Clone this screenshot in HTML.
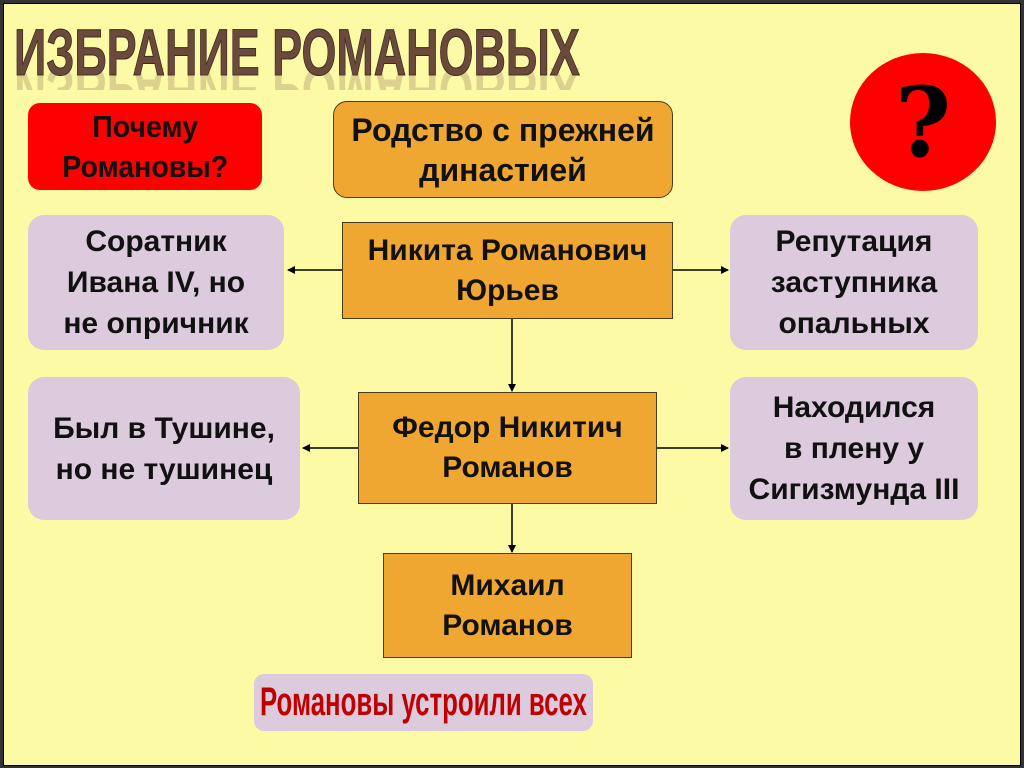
<!DOCTYPE html>
<html><head><meta charset="utf-8"><style>
body{margin:0;width:1024px;height:768px;overflow:hidden;background:#333;}
#f{position:absolute;left:3px;top:3px;width:1016px;height:761px;background:#fdfaa6;border:1px solid #000;}
.b{position:absolute;display:flex;align-items:center;justify-content:center;text-align:center;font-weight:bold;box-sizing:border-box;color:#111;font-family:"Liberation Sans",sans-serif;white-space:nowrap;}
.lav{background:#dccbdc;border-radius:16px;font-size:30px;line-height:41px;}
.or{background:#f0a732;border:1.5px solid #4a3a20;font-size:30px;line-height:40px;}
.n{display:inline-block;}
</style></head><body>
<div id="f"></div>
<div style="position:absolute;left:14px;top:14px;font-family:'Liberation Sans',sans-serif;font-weight:bold;font-size:66px;color:#6a4a3c;white-space:nowrap;transform:scaleX(0.68);transform-origin:0 0;-webkit-text-stroke:1px #3a2a20;">ИЗБРАНИЕ РОМАНОВЫХ</div>
<div style="position:absolute;left:14px;top:66px;height:24px;overflow:hidden;opacity:0.22;">
<div style="font-family:'Liberation Sans',sans-serif;font-weight:bold;font-size:66px;line-height:66px;color:#6a4a3c;white-space:nowrap;transform:scaleX(0.68) scaleY(-1);transform-origin:0 33px;margin-top:-8px;">ИЗБРАНИЕ РОМАНОВЫХ</div></div>
<div class="b" style="left:28px;top:103px;width:234px;height:87px;background:#ff0000;border-radius:12px;font-size:31px;line-height:40px;"><span class="n" style="transform:scaleX(0.92)">Почему<br>Романовы?</span></div>
<div class="b or" style="left:333px;top:101px;width:340px;height:97px;border-radius:14px;font-size:32px;">Родство с прежней<br>династией</div>
<div style="position:absolute;left:850px;top:53px;width:146px;height:138px;border-radius:50%;background:#ff0000;"></div>
<div style="position:absolute;left:850px;top:68px;width:146px;text-align:center;font-family:'DejaVu Serif','Liberation Serif',serif;font-weight:bold;font-size:96px;line-height:110px;color:#000;">?</div>
<div class="b lav" style="left:28px;top:215px;width:256px;height:135px;">Соратник<br>Ивана IV, но<br>не опричник</div>
<div class="b lav" style="left:730px;top:215px;width:248px;height:135px;">Репутация<br>заступника<br>опальных</div>
<div class="b lav" style="left:28px;top:377px;width:272px;height:143px;">Был в Тушине,<br>но не тушинец</div>
<div class="b lav" style="left:730px;top:377px;width:248px;height:143px;">Находился<br>в плену у<br>Сигизмунда III</div>
<div class="b or" style="left:342px;top:222px;width:331px;height:97px;">Никита Романович<br>Юрьев</div>
<div class="b or" style="left:358px;top:392px;width:299px;height:112px;">Федор Никитич<br>Романов</div>
<div class="b or" style="left:383px;top:553px;width:249px;height:105px;">Михаил<br>Романов</div>
<div class="b" style="left:254px;top:674px;width:339px;height:57px;background:#dccbdc;border-radius:10px;color:#c00000;font-size:40px;"><span class="n" style="transform:scaleX(0.645)">Романовы устроили всех</span></div>
<svg width="1024" height="768" style="position:absolute;left:0;top:0">
<defs><marker id="a" markerWidth="8" markerHeight="8" refX="7" refY="4" orient="auto" markerUnits="userSpaceOnUse"><path d="M0,0 L8,4 L0,8z" fill="#000"/></marker></defs>
<g stroke="#000" stroke-width="1.5" marker-end="url(#a)">
<line x1="342" y1="270" x2="288" y2="270"/>
<line x1="673" y1="270" x2="728" y2="270"/>
<line x1="358" y1="448" x2="303" y2="448"/>
<line x1="657" y1="448" x2="728" y2="448"/>
<line x1="512" y1="319" x2="512" y2="391"/>
<line x1="512" y1="504" x2="512" y2="552"/>
</g></svg>
</body></html>
